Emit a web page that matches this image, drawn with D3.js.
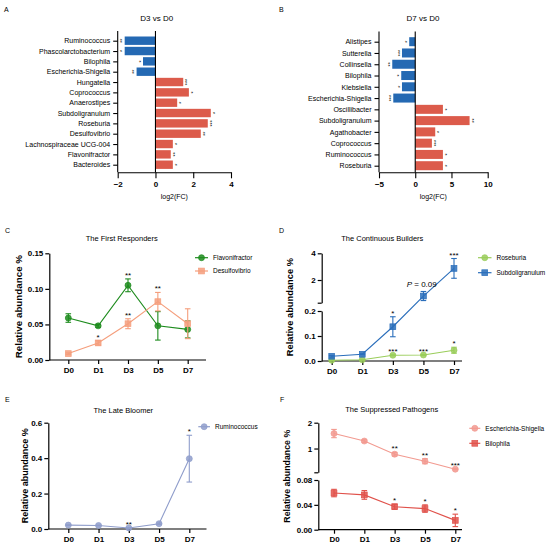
<!DOCTYPE html>
<html lang="en">
<head>
    <meta charset="UTF-8">
    <title>Fold change and relative abundance panels</title>
    <script src="https://d3js.org/d3.v7.min.js"></script>
    <style>
        body { margin: 0; background: #fff; }
        svg { font-family: "Liberation Sans", Arial, sans-serif; }
        .tick line, .domain { stroke: #000; }
    </style>
</head>
<body>
    <svg width="550" height="549"></svg>

    <script>
        // ---- data: panel A (D3 vs D0) ----
        const aCats = ["Ruminococcus", "Phascolarctobacterium", "Bilophila", "Escherichia-Shigella",
            "Hungatella", "Coprococcus", "Anaerostipes", "Subdoligranulum", "Roseburia",
            "Desulfovibrio", "Lachnospiraceae UCG-004", "Flavonifractor", "Bacteroides"];
        const aFC = [-1.63, -1.63, -0.66, -1.0, 1.47, 1.77, 1.15, 2.93, 2.77, 2.4, 0.92, 0.81, 0.92];
        const aSig = ["**", "*", "*", "**", "***", "*", "*", "*", "***", "**", "*", "**", "*"];
        const aTicks = [-2, 0, 2, 4];

        // ---- data: panel B (D7 vs D0) ----
        const bCats = ["Alistipes", "Sutterella", "Collinsella", "Bilophila", "Klebsiella",
            "Escherichia-Shigella", "Oscillibacter", "Subdoligranulum", "Agathobacter",
            "Coprococcus", "Ruminococcus", "Roseburia"];
        const bFC = [-0.83, -1.83, -3.17, -1.93, -1.83, -3.03, 3.82, 7.5, 2.76, 2.3, 3.82, 3.82];
        const bSig = ["*", "***", "**", "*", "*", "***", "*", "**", "*", "***", "*", "*"];
        const bTicks = [-5, 0, 5, 10];

        // ---- data: time courses ----
        const days = ["D0", "D1", "D3", "D5", "D7"];

        const flavMean = [0.059, 0.048, 0.105, 0.048, 0.043];
        const flavSd = [0.006, 0.002, 0.009, 0.020, 0.012];
        const flavSig = ["", "", "**", "", ""];
        const desulfMean = [0.009, 0.024, 0.051, 0.082, 0.051];
        const desulfSd = [0.001, 0.003, 0.007, 0.013, 0.021];
        const desulfSig = ["", "*", "**", "**", ""];

        const roseMean = [0.003, 0.005, 0.023, 0.024, 0.043];
        const roseSd = [0.001, 0.001, 0.002, 0.002, 0.012];
        const roseSig = ["", "", "***", "***", "*"];
        const subdoMean = [0.019, 0.027, 0.137, 0.8, 2.87];
        const subdoSd = [0.003, 0.002, 0.04, 0.34, 0.74];
        const subdoSig = ["", "", "*", "", "***"];

        const rumMean = [0.022, 0.020, 0.006, 0.030, 0.397];
        const rumSd = [0.002, 0.002, 0.001, 0.004, 0.132];
        const rumSig = ["", "", "**", "", "*"];

        const eschMean = [1.58, 1.29, 0.78, 0.51, 0.20];
        const eschSd = [0.16, 0.05, 0.07, 0.10, 0.02];
        const eschSig = ["", "", "**", "**", "***"];
        const biloMean = [0.059, 0.056, 0.037, 0.034, 0.015];
        const biloSd = [0.006, 0.007, 0.004, 0.006, 0.010];
        const biloSig = ["", "", "*", "*", "*"];

        const BLUE = "#2469b3", RED = "#dc5b4b";
        const svg = d3.select("svg");

        function label(txt, x, y) {
            svg.append("text").attr("x", x).attr("y", y).attr("font-size", 7).text(txt);
        }

        function title(txt, x, y, size) {
            svg.append("text").attr("x", x).attr("y", y).attr("text-anchor", "middle")
                .attr("font-size", size || 8).text(txt);
        }

        // horizontal fold change bars
        function barPanel(o) {
            const g = svg.append("g");
            const x = d3.scaleLinear().domain(o.xDomain).range(o.xRange);
            const y = d3.scalePoint().domain(o.cats).range([o.y0, o.y1]);
            const bh = o.barH;

            g.selectAll("rect").data(o.cats).join("rect")
                .attr("x", (d, i) => x(Math.min(0, o.vals[i])))
                .attr("y", d => y(d) - bh / 2)
                .attr("width", (d, i) => Math.abs(x(o.vals[i]) - x(0)))
                .attr("height", bh)
                .attr("fill", (d, i) => o.vals[i] < 0 ? BLUE : RED);

            // significance marks, turned sideways
            g.selectAll("text.sig").data(o.cats).join("text")
                .attr("class", "sig")
                .attr("font-size", 5.5)
                .attr("text-anchor", "middle")
                .attr("transform", (d, i) => {
                    const v = o.vals[i];
                    const xx = v < 0 ? x(v) - 0.3 : x(v) + 6;
                    return `translate(${xx},${y(d)}) rotate(-90)`;
                })
                .text((d, i) => o.sig[i]);

            // zero line
            g.append("line")
                .attr("x1", x(0)).attr("x2", x(0))
                .attr("y1", o.axTop).attr("y2", o.axBottom)
                .attr("stroke", "#000").attr("stroke-width", 1.1);

            // category axis
            const ya = g.append("g").attr("transform", `translate(${o.xRange[0]},0)`)
                .call(d3.axisLeft(y).tickSize(4.5).tickPadding(3));
            ya.select(".domain").remove();
            ya.append("line").attr("y1", o.axTop).attr("y2", o.axBottom)
                .attr("stroke", "#000").attr("stroke-width", 1.1);
            ya.selectAll("text").attr("font-size", 7).attr("fill", "#000")
                .attr("font-family", "Liberation Sans, Arial, sans-serif");
            ya.selectAll(".tick line").attr("stroke-width", 1.1);

            // value axis
            const xa = g.append("g").attr("transform", `translate(0,${o.axBottom})`)
                .call(d3.axisBottom(x).tickValues(o.ticks).tickFormat(d3.format("d"))
                    .tickSize(6).tickSizeOuter(0).tickPadding(3));
            xa.selectAll("text").attr("font-size", 8).attr("font-weight", "bold").attr("fill", "#000")
                .attr("font-family", "Liberation Sans, Arial, sans-serif");
            xa.selectAll(".tick line, .domain").attr("stroke-width", 1.1);

            svg.append("text")
                .attr("x", (o.xRange[0] + o.xRange[1]) / 2).attr("y", o.axBottom + 27)
                .attr("text-anchor", "middle").attr("font-size", 7).text("log2(FC)");
        }

        function marker(sel, shape, color, cx, cy) {
            if (shape === "square") {
                sel.append("rect").attr("x", cx - 2.9).attr("y", cy - 2.9)
                    .attr("width", 5.8).attr("height", 5.8)
                    .attr("fill", color).attr("fill-opacity", 0.85)
                    .attr("stroke", color).attr("stroke-width", 0.7);
            } else {
                sel.append("circle").attr("cx", cx).attr("cy", cy).attr("r", 3)
                    .attr("fill", color).attr("fill-opacity", 0.85)
                    .attr("stroke", color).attr("stroke-width", 0.7);
            }
        }

        // time-course panel, optional broken y axis (several segments)
        function linePanel(o) {
            const g = svg.append("g");
            const x = d3.scalePoint().domain(days).range(o.xr);
            const segs = o.segs.map(s => Object.assign({}, s,
                { sc: d3.scaleLinear().domain(s.domain).range(s.range) }));
            const yPos = v => {
                const s = segs.find(s => v <= s.domain[1]) || segs[segs.length - 1];
                return s.sc(v);
            };

            segs.forEach(s => {
                const ax = g.append("g").attr("transform", `translate(${o.ax},0)`)
                    .call(d3.axisLeft(s.sc).tickValues(s.ticks)
                        .tickFormat((d, i) => s.labels[i]).tickSize(4).tickSizeOuter(0).tickPadding(2));
                ax.selectAll("text").attr("font-size", 8).attr("font-weight", "bold").attr("fill", "#000")
                    .attr("font-family", "Liberation Sans, Arial, sans-serif");
                ax.selectAll(".tick line, .domain").attr("stroke-width", 1.2);
            });

            g.append("line").attr("x1", o.ax).attr("x2", o.xEnd)
                .attr("y1", o.base).attr("y2", o.base)
                .attr("stroke", "#000").attr("stroke-width", 1.2);
            const xa = g.append("g").attr("transform", `translate(0,${o.base})`)
                .call(d3.axisBottom(x).tickSize(4).tickPadding(3));
            xa.select(".domain").remove();
            xa.selectAll("text").attr("font-size", 8).attr("font-weight", "bold").attr("fill", "#000")
                .attr("font-family", "Liberation Sans, Arial, sans-serif");
            xa.selectAll(".tick line").attr("stroke-width", 1.2);

            const line = d3.line().x((d, i) => x(days[i])).y(d => yPos(d));

            o.series.forEach(s => {
                g.append("path").datum(s.mean)
                    .attr("fill", "none").attr("stroke", s.color).attr("stroke-width", 1.1)
                    .attr("d", line);

                s.mean.forEach((m, i) => {
                    const cx = x(days[i]);
                    const hi = yPos(m + s.sd[i]), lo = yPos(Math.max(0, m - s.sd[i]));
                    g.append("line").attr("x1", cx).attr("x2", cx).attr("y1", hi).attr("y2", lo)
                        .attr("stroke", s.color).attr("stroke-width", 1.1);
                    [hi, lo].forEach(yy => g.append("line")
                        .attr("x1", cx - 2.8).attr("x2", cx + 2.8).attr("y1", yy).attr("y2", yy)
                        .attr("stroke", s.color).attr("stroke-width", 1.1));
                    marker(g, s.shape, s.color, cx, yPos(m));
                    if (s.sig[i]) {
                        g.append("text").attr("x", cx).attr("y", hi - 1)
                            .attr("text-anchor", "middle").attr("font-size", 8).text(s.sig[i]);
                    }
                });
            });

            // legend
            o.series.forEach((s, i) => {
                const ly = o.legend.y[i];
                g.append("line").attr("x1", o.legend.x).attr("x2", o.legend.x + o.legend.len)
                    .attr("y1", ly).attr("y2", ly).attr("stroke", s.color).attr("stroke-width", 1.2);
                marker(g, s.shape, s.color, o.legend.x + o.legend.len / 2, ly);
                g.append("text").attr("x", o.legend.x + o.legend.len + 5).attr("y", ly + 2.3)
                    .attr("font-size", 6.5).text(s.name);
            });

            title(o.title, o.titleX, o.titleY, 7.5);

            const top = d3.min(segs, s => s.range[1]);
            svg.append("text")
                .attr("transform", `translate(${o.ylabX},${(top + o.base) / 2}) rotate(-90)`)
                .attr("text-anchor", "middle").attr("font-size", o.ylabSize)
                .attr("font-weight", "bold").text("Relative abundance %");
        }

        // ---- A ----
        label("A", 4, 12);
        title("D3 vs D0", 156.7, 21);
        barPanel({
            cats: aCats, vals: aFC, sig: aSig, ticks: aTicks,
            xDomain: [-2, 4], xRange: [117.7, 231],
            y0: 40.7, y1: 164.7, barH: 8.4, axTop: 31, axBottom: 172.3
        });

        // ---- B ----
        label("B", 279, 12);
        title("D7 vs D0", 423, 21);
        barPanel({
            cats: bCats, vals: bFC, sig: bSig, ticks: bTicks,
            xDomain: [-5, 10], xRange: [379, 487.7],
            y0: 41.7, y1: 165.7, barH: 9, axTop: 31.5, axBottom: 172.3
        });

        // ---- C ----
        label("C", 5, 233);
        linePanel({
            title: "The First Responders", titleX: 121.7, titleY: 241,
            ax: 49.3, xr: [68.3, 187.7], xEnd: 206, base: 360,
            segs: [{ domain: [0, 0.15], range: [360, 253.3], ticks: [0, 0.05, 0.1, 0.15],
                labels: ["0.00", "0.05", "0.10", "0.15"] }],
            series: [
                { name: "Flavonifractor", mean: flavMean, sd: flavSd, sig: flavSig, color: "#1e8c1e", shape: "circle" },
                { name: "Desulfovibrio", mean: desulfMean, sd: desulfSd, sig: desulfSig, color: "#f59e7c", shape: "square" }
            ],
            legend: { x: 195, len: 13, y: [257.7, 271] },
            ylabX: 21.5, ylabSize: 9.8
        });

        // ---- D ----
        label("D", 279, 233);
        linePanel({
            title: "The Continuous Builders", titleX: 382.3, titleY: 241,
            ax: 321.7, xr: [331.7, 454], xEnd: 462, base: 361,
            segs: [
                { domain: [0, 0.2], range: [361, 311], ticks: [0, 0.1, 0.2], labels: ["0.0", "0.1", "0.2"] },
                { domain: [0.3, 4], range: [302.7, 253.3], ticks: [0.3, 2, 4], labels: ["", "2", "4"] }
            ],
            series: [
                { name: "Roseburia", mean: roseMean, sd: roseSd, sig: roseSig, color: "#9acd5a", shape: "circle" },
                { name: "Subdoligranulum", mean: subdoMean, sd: subdoSd, sig: subdoSig, color: "#2a6ebb", shape: "square" }
            ],
            legend: { x: 478, len: 13.5, y: [257.7, 272.7] },
            ylabX: 293, ylabSize: 9.3
        });
        const pTxt = svg.append("text").attr("x", 421.7).attr("y", 287.3)
            .attr("text-anchor", "middle").attr("font-size", 8);
        pTxt.append("tspan").attr("font-style", "italic").text("P");
        pTxt.append("tspan").text(" = 0.09");

        // ---- E ----
        label("E", 5, 402);
        linePanel({
            title: "The Late Bloomer", titleX: 123.3, titleY: 412.5,
            ax: 48.3, xr: [68.3, 189.3], xEnd: 206.5, base: 529,
            segs: [{ domain: [0, 0.6], range: [529, 422.7], ticks: [0, 0.2, 0.4, 0.6],
                labels: ["0.0", "0.2", "0.4", "0.6"] }],
            series: [
                { name: "Ruminococcus", mean: rumMean, sd: rumSd, sig: rumSig, color: "#8f9dcb", shape: "circle" }
            ],
            legend: { x: 198.3, len: 11.7, y: [426.7] },
            ylabX: 28, ylabSize: 9
        });

        // ---- F ----
        label("F", 280, 402);
        linePanel({
            title: "The Suppressed Pathogens", titleX: 391.7, titleY: 412,
            ax: 318.3, xr: [334, 455.3], xEnd: 462, base: 529.7,
            segs: [
                { domain: [0, 0.08], range: [529.7, 480], ticks: [0, 0.04, 0.08], labels: ["0.00", "0.04", "0.08"] },
                { domain: [0.08, 2], range: [472.3, 422.7], ticks: [0.08, 1, 2], labels: ["", "1", "2"] }
            ],
            series: [
                { name: "Escherichia-Shigella", mean: eschMean, sd: eschSd, sig: eschSig, color: "#f29a90", shape: "circle" },
                { name: "Bilophila", mean: biloMean, sd: biloSd, sig: biloSig, color: "#e0514a", shape: "square" }
            ],
            legend: { x: 469.3, len: 11, y: [428.3, 443.3] },
            ylabX: 290, ylabSize: 8.8
        });
    </script>
</body>
</html>
